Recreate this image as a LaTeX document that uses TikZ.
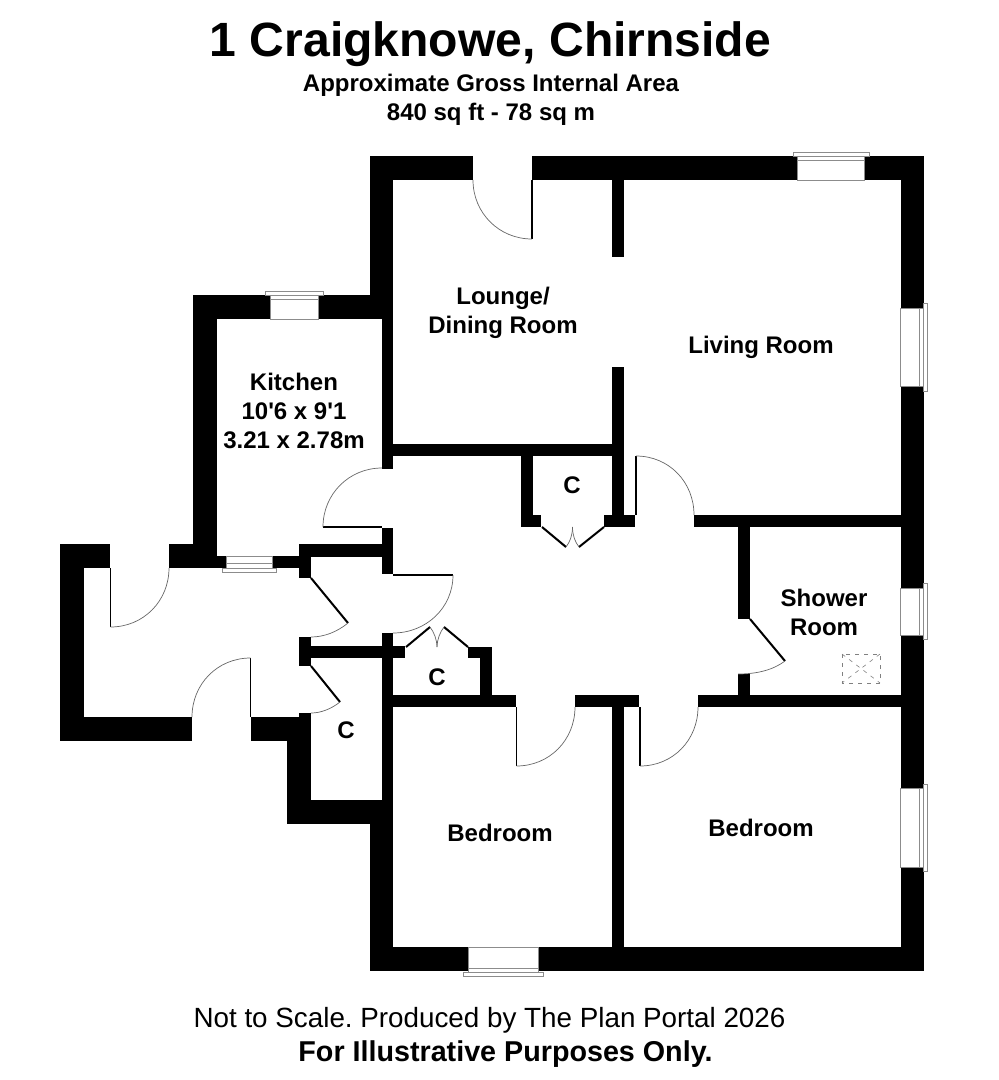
\documentclass[tikz,border=0pt]{standalone}
\usepackage{fontspec}
\setmainfont{Liberation Sans}
\usepackage{tikz}

\begin{document}
\begin{tikzpicture}[x=1pt, y=-1pt,
    wall/.style = {fill=black},
    frame/.style = {draw=black!45, line width=1pt},
    leaf/.style = {draw=black, line width=1.5pt},
    slant/.style = {draw=black, line width=2pt},
    swing/.style = {draw=black!60, line width=0.7pt},
    room/.style = {font=\fontsize{24}{29}\selectfont\bfseries, align=center, inner sep=0pt},
    vent/.style = {draw=black!50, line width=0.6pt, dash pattern=on 4pt off 5pt}]
\useasboundingbox (0,0) rectangle (999,1080);

% outer walls
\fill[wall] (370,156) rectangle (473,180);
\fill[wall] (532,156) rectangle (797,180);
\fill[wall] (864,156) rectangle (924,180);
\fill[wall] (901,156) rectangle (924,308);
\fill[wall] (901,386) rectangle (924,588);
\fill[wall] (901,635) rectangle (924,788);
\fill[wall] (901,867) rectangle (924,971);
\fill[wall] (370,947) rectangle (468,971);
\fill[wall] (538,947) rectangle (924,971);
\fill[wall] (370,156) rectangle (393,319);
\fill[wall] (193,295) rectangle (270,319);
\fill[wall] (318,295) rectangle (393,319);
\fill[wall] (193,295) rectangle (217,568);
\fill[wall] (169,544) rectangle (217,568);
\fill[wall] (60,544) rectangle (110,568);
\fill[wall] (60,544) rectangle (84,741);
\fill[wall] (60,717) rectangle (192,741);
\fill[wall] (251,717) rectangle (311,741);
\fill[wall] (299,713) rectangle (311,741);
\fill[wall] (287,717) rectangle (311,824);
\fill[wall] (287,800) rectangle (393,824);
\fill[wall] (370,800) rectangle (393,971);

% inner walls
\fill[wall] (382,319) rectangle (393,469);
\fill[wall] (217,556) rectangle (226,568);
\fill[wall] (272,556) rectangle (311,568);
\fill[wall] (299,544) rectangle (311,578);
\fill[wall] (299,544) rectangle (393,557);
\fill[wall] (382,528) rectangle (393,574);
\fill[wall] (299,637) rectangle (311,666);
\fill[wall] (299,646) rectangle (405,658);
\fill[wall] (382,633) rectangle (393,800);
\fill[wall] (468,647) rectangle (492,658);
\fill[wall] (480,647) rectangle (492,695);
\fill[wall] (382,695) rectangle (516,707);
\fill[wall] (575,695) rectangle (639,707);
\fill[wall] (698,695) rectangle (901,707);
\fill[wall] (612,707) rectangle (624,947);
\fill[wall] (382,444) rectangle (624,456);
\fill[wall] (612,367) rectangle (624,527);
\fill[wall] (612,180) rectangle (624,257);
\fill[wall] (521,456) rectangle (533,527);
\fill[wall] (521,515) rectangle (541,527);
\fill[wall] (604,515) rectangle (635,527);
\fill[wall] (694,515) rectangle (901,527);
\fill[wall] (738,527) rectangle (750,619);
\fill[wall] (738,674) rectangle (750,695);

% windows
\draw[frame] (793,156) -- (793,152) -- (869,152) -- (869,156) -- cycle;
\draw[frame] (797,156) rectangle (864,180);
\draw[frame] (797,160) -- (864,160);
\draw[frame] (265,295) -- (265,291) -- (323,291) -- (323,295) -- cycle;
\draw[frame] (270,295) rectangle (318,319);
\draw[frame] (270,299) -- (318,299);
\draw[frame] (463,972) -- (463,976) -- (543,976) -- (543,972) -- cycle;
\draw[frame] (468,947) rectangle (538,972);
\draw[frame] (468,968) -- (538,968);
\draw[frame] (222,568) -- (222,572) -- (276,572) -- (276,568) -- cycle;
\draw[frame] (226,556) rectangle (272,568);
\draw[frame] (226,563) -- (272,563);
\draw[frame] (923,303) -- (927,303) -- (927,391) -- (923,391) -- cycle;
\draw[frame] (900,308) rectangle (923,386);
\draw[frame] (919,308) -- (919,386);
\draw[frame] (923,583) -- (927,583) -- (927,639) -- (923,639) -- cycle;
\draw[frame] (900,588) rectangle (923,635);
\draw[frame] (919,588) -- (919,635);
\draw[frame] (923,784) -- (927,784) -- (927,871) -- (923,871) -- cycle;
\draw[frame] (900,788) rectangle (923,867);
\draw[frame] (919,788) -- (919,867);

% doors
\draw[leaf] (532,180) -- (532,239);
\draw[swing] (532,239) .. controls +(-33,0) and +(0,33) .. (473,180);
\draw[leaf] (110.5,568) -- (110.5,627);
\draw[swing] (110.5,627) .. controls +(33,0) and +(0,33) .. (169,568);
\draw[leaf] (250.5,717) -- (250.5,658);
\draw[swing] (250.5,658) .. controls +(-33,0) and +(0,-33) .. (192,717);
\draw[leaf] (382,527) -- (323,527);
\draw[swing] (323,527) .. controls +(0,-33) and +(-33,0) .. (382,468);
\draw[leaf] (393,575) -- (453,575);
\draw[swing] (453,575) .. controls +(0,33) and +(33,0) .. (393,633);
\draw[leaf] (636,515) -- (636,456);
\draw[swing] (636,456) .. controls +(33,0) and +(0,-33) .. (694,515);
\draw[leaf] (516.5,707) -- (516.5,766);
\draw[swing] (516.5,766) .. controls +(33,0) and +(0,33) .. (575,707);
\draw[leaf] (640,707) -- (640,766);
\draw[swing] (640,766) .. controls +(33,0) and +(0,33) .. (698,707);
\draw[slant] (311,578) -- (348,623);
\draw[swing] (348,623) .. controls (337,632) and (324,637) .. (311,637);
\draw[slant] (311,666) -- (340,702);
\draw[swing] (340,702) .. controls (331,709) and (321,713) .. (311,713);
\draw[slant] (750,619) -- (785,661);
\draw[swing] (785,661) .. controls (773,670) and (757,674) .. (738,674);
\draw[slant] (542,527) -- (566,547);
\draw[swing] (566,547) .. controls (570,542) and (572.5,535) .. (572.5,527);
\draw[slant] (604,527) -- (579,547);
\draw[swing] (579,547) .. controls (575,542) and (572.5,535) .. (572.5,527);
\draw[slant] (406,647) -- (430,627);
\draw[swing] (430,627) .. controls (434,632) and (437,640) .. (437,647);
\draw[slant] (468,647) -- (444,627);
\draw[swing] (444,627) .. controls (440,632) and (437,640) .. (437,647);

% skylight
\draw[vent] (842,654) rectangle (880,683);
\draw[vent] (842,654) -- (880,683);
\draw[vent] (880,654) -- (842,683);

% texts
\node[font=\fontsize{48.1}{56}\selectfont\bfseries, inner sep=0pt] (title) at (490.5,44.5) {1 Craigknowe, Chirnside};
\node[room] (area) at (491,99.5) {Approximate Gross Internal Area\\840 sq ft - 78 sq m};
\node[room] (lounge) at (503,312.5) {Lounge/\\Dining Room};
\node[room] (living) at (761,347) {Living Room};
\node[room] (kitchen) at (294,411) {Kitchen\\10\textquotesingle 6 x 9\textquotesingle 1\\3.21 x 2.78m};
\node[room] (cupa) at (572,485) {C};
\node[room] (cupb) at (437,677) {C};
\node[room] (cupc) at (346,730) {C};
\node[room] (shower) at (824,612) {Shower\\Room};
\node[room] (beda) at (500,833) {Bedroom};
\node[room] (bedb) at (761,828) {Bedroom};
\node[font=\fontsize{27.8}{32}\selectfont, inner sep=0pt] (scale) at (489.5,1020) {\frenchspacing Not to Scale. Produced by The Plan Portal 2026};
\node[font=\fontsize{28.7}{32}\selectfont\bfseries, inner sep=0pt] (purpose) at (505.5,1054) {For Illustrative Purposes Only.};
\end{tikzpicture}
\end{document}
